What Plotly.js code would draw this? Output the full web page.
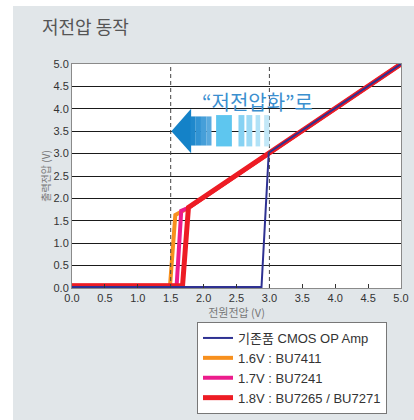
<!DOCTYPE html>
<html>
<head>
<meta charset="utf-8">
<script src="https://cdn.plot.ly/plotly-3.0.1.min.js"></script>
<style>
  html, body { margin: 0; padding: 0; background: #ffffff; }
  #chart { position: absolute; left: 13px; top: 6px; width: 401px; height: 414px; }
</style>
</head>
<body>
<div id="chart"></div>
<script>
// ---- data ----
const seriesNames = ['기존품 CMOS OP Amp', '1.6V : BU7411', '1.7V : BU7241', '1.8V : BU7265 / BU7271'];

const cmosX = [0, 2.80, 2.88, 2.99, 5.0];
const cmosY = [0.02, 0.03, 0.02, 3.02, 5.0];

const bu7411X = [0, 1.49, 1.57, 1.66, 1.77, 5.0];
const bu7411Y = [0.05, 0.05, 1.63, 1.70, 1.79, 5.0];

const bu7241X = [0, 1.59, 1.66, 1.77, 5.0];
const bu7241Y = [0.05, 0.05, 1.72, 1.79, 5.0];

const bu7265X = [0, 1.68, 1.77, 5.0];
const bu7265Y = [0.05, 0.05, 1.80, 5.0];

const xTickVals = [0, 0.5, 1, 1.5, 2, 2.5, 3, 3.5, 4, 4.5, 5];
const xTickText = ['0.0', '0.5', '1.0', '1.5', '2.0', '2.5', '3.0', '3.5', '4.0', '4.5', '5.0'];
const yTickVals = [0, 0.5, 1, 1.5, 2, 2.5, 3, 3.5, 4, 4.5, 5];
const yTickText = ['0.0', '0.5', '1.0', '1.5', '2.0', '2.5', '3.0', '3.5', '4.0', '4.5', '5.0'];

const thresholdLines = [1.5, 3.0];

const labelTitle = '저전압 동작';
const labelXAxis = '전원전압 (V)';
const labelYAxis = '출력전압 (V)';
const labelCallout = '“저전압화”로';

// ---- style ----
const FONT = 'Liberation Sans, Arial, Noto Sans CJK KR, sans-serif';
const KFONT = 'Noto Sans CJK KR, sans-serif';

const traces = [
  { x: bu7411X, y: bu7411Y, name: seriesNames[1], mode: 'lines',
    line: { color: '#f7901e', width: 4 }, legendrank: 2 },
  { x: bu7241X, y: bu7241Y, name: seriesNames[2], mode: 'lines',
    line: { color: '#ec1c8c', width: 4 }, legendrank: 3 },
  { x: bu7265X, y: bu7265Y, name: seriesNames[3], mode: 'lines',
    line: { color: '#ed1c24', width: 5 }, legendrank: 4 },
  { x: cmosX, y: cmosY, name: seriesNames[0], mode: 'lines',
    line: { color: '#2e3192', width: 2 }, legendrank: 1 }
];

const shapes = [];
thresholdLines.forEach(v => shapes.push({
  type: 'line', xref: 'x', yref: 'y', x0: v, x1: v, y0: 0, y1: 5,
  line: { color: '#444', width: 1, dash: '4px,3px' }, layer: 'above'
}));

// callout arrow (pointing left) built in data coordinates
const arrowHead = { tipX: 1.51, baseX: 1.81, midY: 3.5, top: 4.0, bottom: 3.01 };
shapes.push({
  type: 'path', xref: 'x', yref: 'y', layer: 'above', line: { width: 0 },
  fillcolor: '#1482c8',
  path: `M ${arrowHead.tipX},${arrowHead.midY} L ${arrowHead.baseX},${arrowHead.top} L ${arrowHead.baseX},${arrowHead.bottom} Z`
});
const shaftSteps = [
  [1.80, 1.88, '#1f88cc'], [1.88, 1.96, '#3193d3'], [1.96, 2.04, '#469fd9'], [2.04, 2.12, '#5aaade']
];
shaftSteps.forEach(s => shapes.push({
  type: 'rect', xref: 'x', yref: 'y', layer: 'above', line: { width: 0 },
  x0: s[0], x1: s[1], y0: 3.18, y1: 3.83, fillcolor: s[2]
}));
const bars = [
  [2.19, 2.43, '#5ec6ef'], [2.53, 2.62, '#86d2f3'], [2.65, 2.74, '#9cdaf5'], [2.79, 2.86, '#b1e2f7'], [2.92, 3.0, '#c3e8f8']
];
bars.forEach(s => shapes.push({
  type: 'rect', xref: 'x', yref: 'y', layer: 'above', line: { width: 0 },
  x0: s[0], x1: s[1], y0: 3.16, y1: 3.86, fillcolor: s[2]
}));

const layout = {
  width: 401, height: 414,
  margin: { l: 59, r: 13, t: 58, b: 132, autoexpand: false },
  paper_bgcolor: '#e1e6e9',
  plot_bgcolor: '#ffffff',
  font: { family: FONT, color: '#333', size: 11 },
  title: {
    text: labelTitle, xref: 'container', yref: 'container',
    x: 29 / 401, xanchor: 'left', y: 1 - 22 / 414, yanchor: 'middle',
    font: { family: KFONT, size: 18, color: '#555' }
  },
  xaxis: {
    range: [0, 5], tickvals: xTickVals, ticktext: xTickText,
    showgrid: false, zeroline: false,
    ticks: 'inside', ticklen: 4, tickcolor: '#333', tickwidth: 1,
    showline: true, linecolor: '#8a8a8a', linewidth: 1, mirror: true,
    tickfont: { family: FONT, size: 11, color: '#333' },
    title: { text: labelXAxis, standoff: 5, font: { family: KFONT, size: 11, color: '#777' } },
    automargin: false, fixedrange: true
  },
  yaxis: {
    range: [0, 5], tickvals: yTickVals, ticktext: yTickText,
    showgrid: true, gridcolor: '#1a1a1a', gridwidth: 1, zeroline: false,
    ticks: '', showline: true, linecolor: '#8a8a8a', linewidth: 1, mirror: true,
    tickfont: { family: FONT, size: 11, color: '#333' },
    title: { text: labelYAxis, standoff: 1, font: { family: KFONT, size: 10, color: '#777' } },
    automargin: false, fixedrange: true
  },
  showlegend: true,
  legend: {
    x: 125 / 329, xanchor: 'left', y: (282 - 316) / 224, yanchor: 'top',
    bgcolor: '#ffffff', bordercolor: '#777', borderwidth: 1,
    font: { family: FONT, size: 13, color: '#333' },
    itemwidth: 30, traceorder: 'normal'
  },
  shapes: shapes,
  annotations: [{
    text: labelCallout, xref: 'paper', yref: 'paper',
    x: 128 / 329, xanchor: 'left', y: (282 - 95) / 224, yanchor: 'middle',
    showarrow: false, font: { family: KFONT, size: 20, color: '#3b8fcf' }
  }]
};

Plotly.newPlot('chart', traces, layout, { displayModeBar: false, staticPlot: true });
</script>
</body>
</html>
